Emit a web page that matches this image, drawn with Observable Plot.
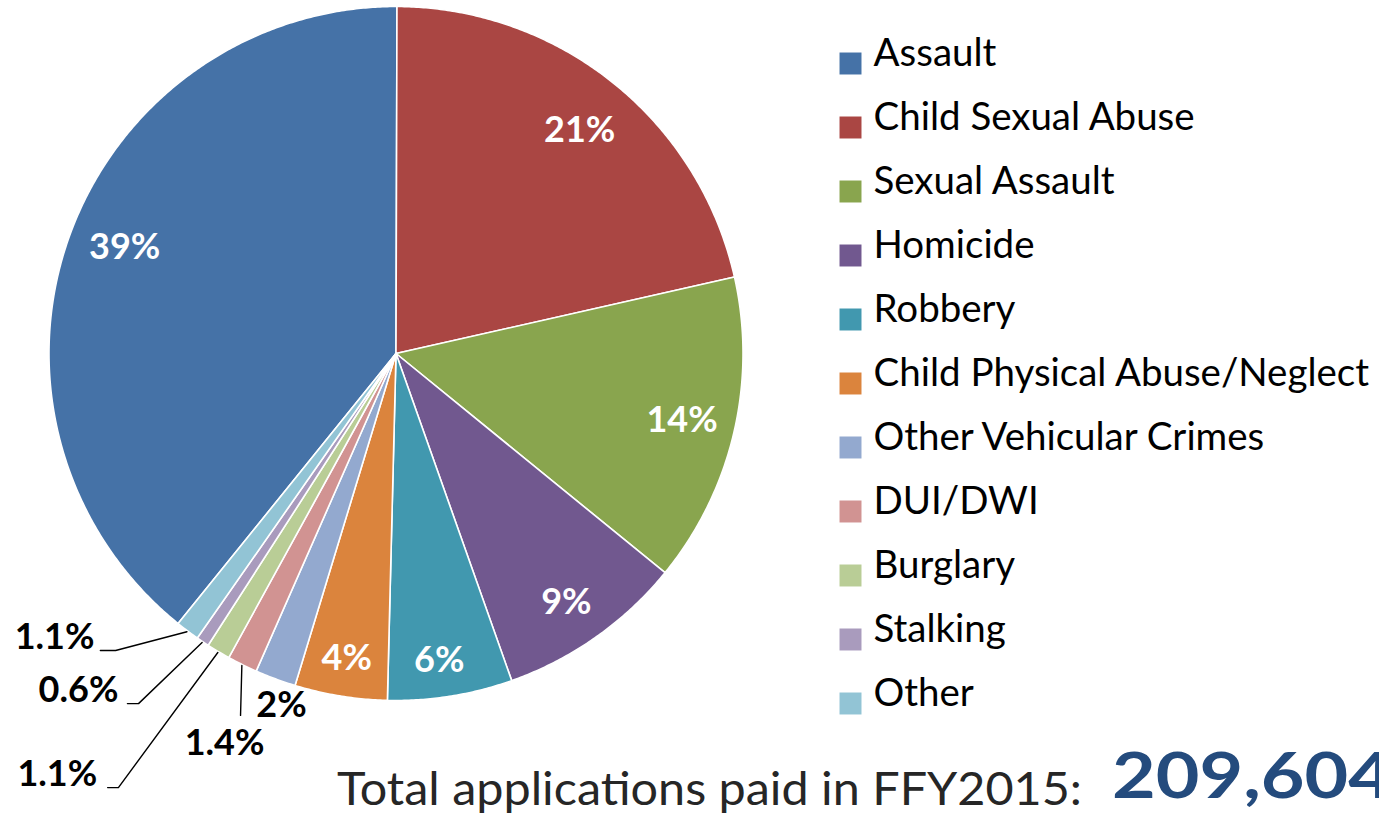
<!DOCTYPE html>
<html>
<head>
<meta charset="utf-8">
<script src="https://cdn.jsdelivr.net/npm/d3@7"></script>
<script src="https://cdn.jsdelivr.net/npm/@observablehq/plot@0.6"></script>
<style>
  body { margin: 0; background: #fff; }
  #wrap { position: relative; width: 1379px; height: 817px; overflow: hidden; font-family: Lato, "Open Sans", sans-serif; }
  #chart, #legend, #caption { position: absolute; }
  #chart { left: 0; top: 0; }
  #legend { left: 830px; top: 17px; }
  #caption { left: 0; top: 0; }
</style>
</head>
<body>
<div id="wrap">
  <div id="chart"></div>
  <div id="legend"></div>
  <svg id="caption" width="1379" height="817"></svg>
</div>
<script>
// ---- data ----
const categories = ["Assault", "Child Sexual Abuse", "Sexual Assault", "Homicide", "Robbery",
  "Child Physical Abuse/Neglect", "Other Vehicular Crimes", "DUI/DWI", "Burglary", "Stalking", "Other"];
// shares (labels show rounded values)
const shares = [39.2, 21.4, 14.4, 8.7, 5.8, 4.3, 1.9, 1.4, 1.1, 0.6, 1.1];
const shareLabels = ["39%", "21%", "14%", "9%", "6%", "4%", "2%", "1.4%", "1.1%", "0.6%", "1.1%"];
const colors = ["#4572A7", "#AA4643", "#89A54E", "#71588F", "#4198AF", "#DB843D",
  "#93A9CF", "#D19392", "#B9CD96", "#A99BBD", "#92C4D5"];
const captionText = "Total applications paid in FFY2015:";
const totalText = "209,604";

// ---- layout (styling) ----
const W = 1379, H = 817, cx = 395.5, cy = 353, R = 347;
const firstSliceAngle = 218.9; // degrees, clockwise from 12 o'clock
// inside label placement: radius (fraction of pie radius) and angular nudge (degrees)
const insideRadius = {"Assault": 0.84, "Child Sexual Abuse": 0.832, "Sexual Assault": 0.847, "Homicide": 0.87,
  "Robbery": 0.893, "Child Physical Abuse/Neglect": 0.89};
const insideNudge = {"Assault": 1.9, "Child Sexual Abuse": 0.8, "Homicide": 0.8, "Robbery": 1.0};
// outside call-outs, in pie-radius units: label centre, leader elbow, leader end
const callouts = [
  {name: "Other Vehicular Crimes", lx: -0.330, ly: -1.014, leader: false},
  {name: "DUI/DWI", lx: -0.494, ly: -1.124, leader: true, ex: -0.448, ey: -1.043, tx: -0.448, ty: -1.043},
  {name: "Burglary", lx: -0.976, ly: -1.213, leader: true, ex: -0.800, ey: -1.251, tx: -0.831, ty: -1.251},
  {name: "Stalking", lx: -0.915, ly: -0.971, leader: true, ex: -0.742, ey: -1.009, tx: -0.774, ty: -1.009},
  {name: "Other", lx: -0.984, ly: -0.818, leader: true, ex: -0.808, ey: -0.856, tx: -0.852, ty: -0.856}
];

// ---- pie geometry from data ----
const rows = categories.map((name, i) => ({name, share: shares[i], label: shareLabels[i]}));
const rad = (d) => d * Math.PI / 180;
const a0 = rad(firstSliceAngle);
const arcs = d3.pie().sort(null).value(d => d.share).startAngle(a0).endAngle(a0 + 2 * Math.PI)(rows);

const slicePts = [];
for (const a of arcs) {
  slicePts.push({name: a.data.name, x: 0, y: 0});
  const n = Math.max(2, Math.ceil((a.endAngle - a.startAngle) / rad(0.4)));
  for (let k = 0; k <= n; k++) {
    const t = a.startAngle + (a.endAngle - a.startAngle) * k / n;
    slicePts.push({name: a.data.name, x: Math.sin(t), y: Math.cos(t)});
  }
  slicePts.push({name: a.data.name, x: 0, y: 0});
}
const midAngle = new Map(arcs.map(a => [a.data.name, (a.startAngle + a.endAngle) / 2]));

const insideLabels = arcs.filter(a => a.data.name in insideRadius).map(a => {
  const m = midAngle.get(a.data.name) + rad(insideNudge[a.data.name] || 0), r = insideRadius[a.data.name];
  return {label: a.data.label, x: r * Math.sin(m), y: r * Math.cos(m)};
});
const outsideLabels = callouts.map(c => ({label: rows.find(r => r.name === c.name).label, x: c.lx, y: c.ly}));
const leaderPts = [];
for (const c of callouts.filter(c => c.leader)) {
  const m = midAngle.get(c.name);
  leaderPts.push({name: c.name, x: 1.003 * Math.sin(m), y: 1.003 * Math.cos(m)});
  leaderPts.push({name: c.name, x: c.ex, y: c.ey});
  leaderPts.push({name: c.name, x: c.tx, y: c.ty});
}

const pie = Plot.plot({
  width: W, height: H,
  marginLeft: cx - R, marginRight: W - (cx + R), marginTop: cy - R, marginBottom: H - (cy + R),
  x: {domain: [-1, 1], axis: null},
  y: {domain: [-1, 1], axis: null},
  color: {domain: categories, range: colors},
  style: {fontFamily: "Lato, 'Open Sans', sans-serif", overflow: "visible"},
  marks: [
    Plot.line(slicePts, {x: "x", y: "y", z: "name", fill: "name", stroke: "white", strokeWidth: 1.6, strokeLinejoin: "round"}),
    Plot.line(leaderPts, {x: "x", y: "y", z: "name", stroke: "black", strokeWidth: 1.4}),
    Plot.text(insideLabels, {x: "x", y: "y", text: "label", fill: "white", fontSize: 36, fontWeight: "bold"}),
    Plot.text(outsideLabels, {x: "x", y: "y", text: "label", fill: "black", fontSize: 36, fontWeight: "bold"})
  ]
});
document.getElementById("chart").appendChild(pie);

// ---- legend ----
const rowH = 64.7;
const legend = Plot.plot({
  width: 549, height: rowH * categories.length,
  margin: 0,
  x: {axis: null, domain: [0, 1]},
  y: {type: "point", domain: categories, axis: null, padding: 0.5},
  color: {domain: categories, range: colors},
  style: {fontFamily: "Lato, 'Open Sans', sans-serif", overflow: "visible"},
  marks: [
    Plot.dot(categories, {y: d => d, fill: d => d, symbol: "square", r: 12.4, frameAnchor: "left", dx: 20, dy: 10}),
    Plot.text(categories, {y: d => d, text: d => d, frameAnchor: "left", textAnchor: "start", dx: 43, fontSize: 38.5, fill: "black"})
  ]
});
document.getElementById("legend").appendChild(legend);

// ---- caption ----
const cap = d3.select("#caption");
cap.append("text").attr("x", 337).attr("y", 805)
  .attr("font-family", "Lato, 'Open Sans', sans-serif").attr("font-size", 46).attr("fill", "#262626")
  .attr("textLength", 745).attr("lengthAdjust", "spacingAndGlyphs").text(captionText);
cap.append("text").attr("x", 1112).attr("y", 798)
  .attr("font-family", "Lato, 'Open Sans', sans-serif").attr("font-size", 64).attr("font-weight", "bold").attr("fill", "#244B7D")
  .attr("textLength", 280).attr("lengthAdjust", "spacingAndGlyphs").text(totalText);
</script>
</body>
</html>
